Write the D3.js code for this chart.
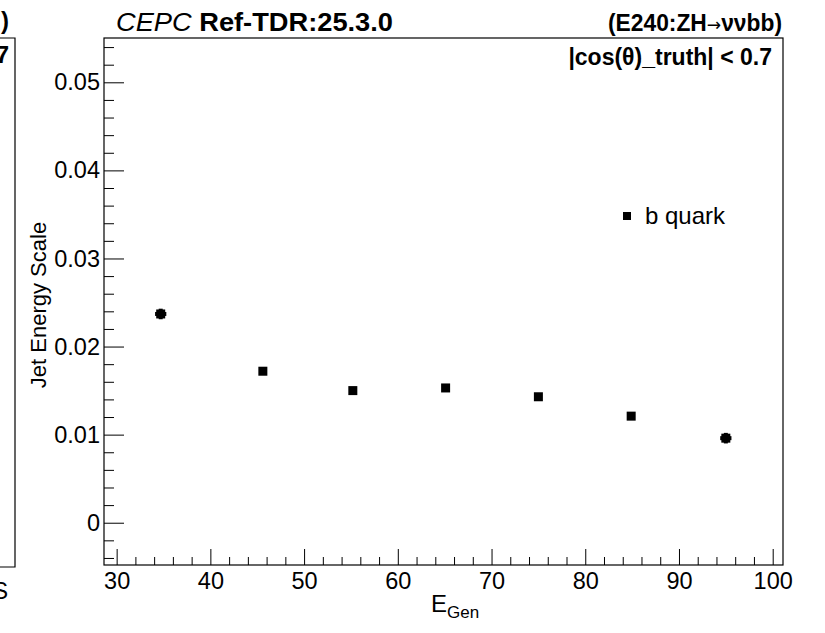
<!DOCTYPE html>
<html>
<head>
<meta charset="utf-8">
<script src="https://cdn.jsdelivr.net/npm/d3@7"></script>
<style>
  body { margin: 0; background: #fff; }
  text { font-family: "Liberation Sans", Arial, sans-serif; fill: #000; }
</style>
</head>
<body>
<main></main>
<script>
// values
const eGen = [34.7, 45.6, 55.2, 65.1, 75.0, 84.9, 95.0];
const jes = [0.0237, 0.0172, 0.0150, 0.0153, 0.0143, 0.0121, 0.0096];
const jesErr = [0.0006, 0, 0, 0, 0, 0, 0.0006];
const eErr = [0.6, 0, 0, 0, 0, 0, 0.6];
const xTicks = [30, 40, 50, 60, 70, 80, 90, 100];
const yTicks = [0, 0.01, 0.02, 0.03, 0.04, 0.05];
const legendLabel = "b quark";

const width = 825;
const height = 633;
const frame = { left: 104, right: 783, top: 38, bottom: 565 };

const svg = d3.select("main").append("svg").attr("width", width).attr("height", height);

const xScale = d3.scaleLinear().domain([28.65, 101.1]).range([frame.left, frame.right]);
const yScale = d3.scaleLinear().domain([-0.0048, 0.05503]).range([frame.bottom, frame.top]);

// piece of the neighbouring panel on the left edge
svg.append("path")
  .attr("d", "M0,38H15V567H0")
  .attr("fill", "none").attr("stroke", "#000").attr("stroke-width", 1.2);
svg.append("text").attr("x", 9).attr("y", 29).attr("text-anchor", "end")
  .style("font-size", "24px").style("font-weight", "bold").text(")");
svg.append("text").attr("x", 9).attr("y", 63).attr("text-anchor", "end")
  .style("font-size", "24px").style("font-weight", "bold").text("7");
svg.append("text").attr("x", 8).attr("y", 599).attr("text-anchor", "end")
  .style("font-size", "23px").text("S");

// frame
svg.append("rect")
  .attr("x", frame.left).attr("y", frame.top)
  .attr("width", frame.right - frame.left).attr("height", frame.bottom - frame.top)
  .attr("fill", "none").attr("stroke", "#000").attr("stroke-width", 1.2);

// minor ticks
const yMinor = d3.range(-0.004, 0.0551, 0.002).filter((v) => !yTicks.some((t) => Math.abs(t - v) < 1e-9));
const xMinor = d3.range(30, 101, 2).filter((v) => v % 10 !== 0);

svg.append("g")
  .attr("transform", `translate(${frame.left},0)`)
  .call(d3.axisLeft(yScale).tickValues(yMinor).tickSize(-10).tickFormat(""))
  .call((g) => g.select(".domain").remove());

svg.append("g")
  .attr("transform", `translate(0,${frame.bottom})`)
  .call(d3.axisBottom(xScale).tickValues(xMinor).tickSize(-8).tickFormat(""))
  .call((g) => g.select(".domain").remove());

// major ticks and labels
const yAxis = svg.append("g")
  .attr("transform", `translate(${frame.left},0)`)
  .call(d3.axisLeft(yScale).tickValues(yTicks).tickSize(-20).tickPadding(4)
    .tickFormat((d) => (d === 0 ? "0" : d3.format(".2f")(d))));
yAxis.select(".domain").remove();
yAxis.selectAll("text").style("font-size", "23.5px").style("font-family", "Liberation Sans, Arial, sans-serif");

const xAxis = svg.append("g")
  .attr("transform", `translate(0,${frame.bottom})`)
  .call(d3.axisBottom(xScale).tickValues(xTicks).tickSize(-16).tickPadding(7).tickFormat(d3.format("d")));
xAxis.select(".domain").remove();
xAxis.selectAll("text").style("font-size", "23.5px").style("font-family", "Liberation Sans, Arial, sans-serif");

svg.selectAll(".tick line").attr("stroke", "#000").attr("stroke-width", 1);

// axis titles
svg.append("text")
  .attr("transform", "translate(46,305) rotate(-90)")
  .attr("text-anchor", "middle")
  .style("font-size", "22px")
  .text("Jet Energy Scale");

const xTitle = svg.append("text").attr("x", 431).attr("y", 612).style("font-size", "24px");
xTitle.append("tspan").text("E");
xTitle.append("tspan").attr("dy", 6).style("font-size", "17px").text("Gen");

// header texts
const head = svg.append("text").attr("x", 116).attr("y", 31)
  .attr("textLength", 277).attr("lengthAdjust", "spacingAndGlyphs")
  .style("font-size", "25px");
head.append("tspan").style("font-style", "italic").text("CEPC ");
head.append("tspan").style("font-weight", "bold").text("Ref-TDR:25.3.0");

const proc = svg.append("text").attr("x", 782).attr("y", 31).attr("text-anchor", "end")
  .attr("textLength", 174).attr("lengthAdjust", "spacingAndGlyphs")
  .style("font-size", "24px").style("font-weight", "bold");
proc.append("tspan").text("(E240:ZH");
proc.append("tspan").style("font-family", "DejaVu Sans").style("font-weight", "normal")
  .style("font-size", "18px").text("\u2192");
proc.append("tspan").text("\u03bd\u03bdbb)");

svg.append("text").attr("x", 772).attr("y", 65).attr("text-anchor", "end")
  .style("font-size", "23px").style("font-weight", "bold")
  .text("|cos(\u03b8)_truth| < 0.7");

// data
const points = eGen.map((x, i) => ({ x, y: jes[i], ex: eErr[i], ey: jesErr[i] }));

svg.selectAll(".ebar-y").data(points.filter((p) => p.ey > 0)).enter().append("line")
  .attr("x1", (d) => xScale(d.x)).attr("x2", (d) => xScale(d.x))
  .attr("y1", (d) => yScale(d.y - d.ey)).attr("y2", (d) => yScale(d.y + d.ey))
  .attr("stroke", "#000").attr("stroke-width", 4);
svg.selectAll(".ebar-x").data(points.filter((p) => p.ex > 0)).enter().append("line")
  .attr("x1", (d) => xScale(d.x - d.ex)).attr("x2", (d) => xScale(d.x + d.ex))
  .attr("y1", (d) => yScale(d.y)).attr("y2", (d) => yScale(d.y))
  .attr("stroke", "#000").attr("stroke-width", 4);

const ms = 9;
svg.selectAll(".marker").data(points).enter().append("rect")
  .attr("class", "marker")
  .attr("x", (d) => xScale(d.x) - ms / 2)
  .attr("y", (d) => yScale(d.y) - ms / 2)
  .attr("width", ms).attr("height", ms)
  .attr("fill", "#000");

// legend
svg.append("rect").attr("x", 623).attr("y", 212).attr("width", 8).attr("height", 8).attr("fill", "#000");
svg.append("text").attr("x", 645).attr("y", 224).style("font-size", "24px").text(legendLabel);
</script>
</body>
</html>
